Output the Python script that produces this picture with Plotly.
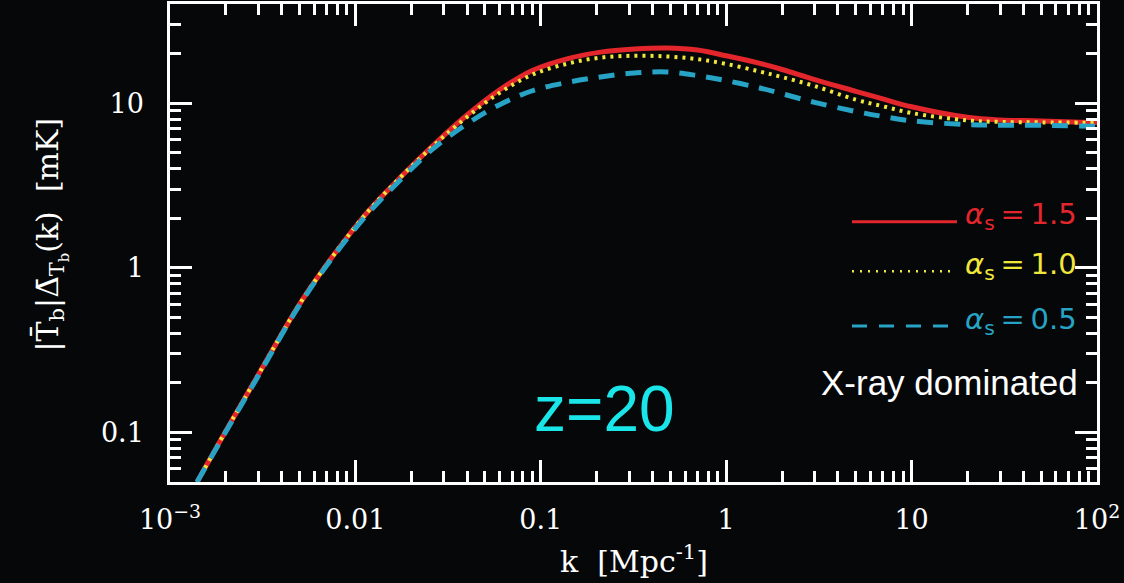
import plotly.graph_objects as go

# ---- data (k in Mpc^-1, values in mK) ----
k = [0.0014, 0.002, 0.00294, 0.005, 0.0076, 0.0115, 0.0174, 0.0263, 0.04, 0.06,
     0.09, 0.14, 0.21, 0.32, 0.48, 0.7, 1, 1.5, 2, 3, 5, 7, 10, 20, 30, 50, 100]
alpha15 = [0.05, 0.102, 0.216, 0.602, 1.186, 2.15, 3.52, 5.55, 8.47, 12.05,
           15.8, 18.65, 20.4, 21.3, 21.6, 21.0, 19.4, 17.5, 16.0, 13.9, 11.8, 10.6,
           9.5, 8.2, 7.9, 7.8, 7.6]
alpha10 = [0.05, 0.102, 0.216, 0.602, 1.186, 2.15, 3.52, 5.5, 8.24, 11.56,
           14.9, 17.4, 18.9, 19.4, 19.2, 18.5, 17.3, 15.6, 14.4, 12.7, 10.5, 9.57,
           8.71, 7.85, 7.69, 7.64, 7.6]
alpha05 = [0.05, 0.101, 0.213, 0.595, 1.17, 2.09, 3.40, 5.29, 7.48, 9.79,
           11.89, 13.38, 14.43, 15.26, 15.47, 14.7, 13.7, 12.4, 11.4, 10.1, 8.9, 8.3,
           7.81, 7.41, 7.35, 7.33, 7.24]

series_names = ["α_s=1.5", "α_s=1.0", "α_s=0.5"]
legend_labels = ["<i>α</i><sub>s</sub>\u2009=\u20091.5",
                 "<i>α</i><sub>s</sub>\u2009=\u20091.0",
                 "<i>α</i><sub>s</sub>\u2009=\u20090.5"]

x_tickvals = [1e-3, 1e-2, 1e-1, 1, 10, 100]
x_ticktext = ["10<sup>−3</sup>", "0.01", "0.1", "1", "10", "10<sup>2</sup>"]
y_tickvals = [0.1, 1, 10]
y_ticktext = ["0.1", "1", "10"]

RED = "#E3262C"
YEL = "#F0E63C"
BLU = "#27A3C6"
BG = "#050708"

fig = go.Figure()
fig.add_trace(go.Scatter(x=k, y=alpha15, mode="lines", name=series_names[0],
                         line=dict(color=RED, width=5, shape="spline", smoothing=1.0)))
fig.add_trace(go.Scatter(x=k, y=alpha10, mode="lines", name=series_names[1],
                         line=dict(color=YEL, width=4, dash="3px,5px", shape="spline", smoothing=1.0)))
fig.add_trace(go.Scatter(x=k, y=alpha05, mode="lines", name=series_names[2],
                         line=dict(color=BLU, width=5, dash="16px,11px", shape="spline", smoothing=1.0)))

x_minor = [m * 10.0 ** e for e in range(-3, 2) for m in range(2, 10)]
y_minor = [m * 10.0 ** e for e in range(-2, 2) for m in range(2, 10)
           if 0.05 <= m * 10.0 ** e <= 40]

tickfont = dict(family="DejaVu Serif", size=27, color="white")
axis_common = dict(
    type="log", showgrid=False, zeroline=False, showline=True, linecolor="white",
    linewidth=2.5, mirror="allticks", ticks="inside", ticklen=22, tickwidth=2.5,
    tickcolor="white", tickfont=tickfont,
)
fig.update_xaxes(range=[-3, 2], tickmode="array", tickvals=x_tickvals, ticktext=x_ticktext,
                 ticklabelstandoff=12,
                 minor=dict(tickmode="array", tickvals=x_minor, ticks="inside", ticklen=11,
                            tickwidth=2.5, tickcolor="white", showgrid=False),
                 **axis_common)
fig.update_yaxes(range=[-1.30103, 1.60206], tickmode="array", tickvals=y_tickvals,
                 ticktext=y_ticktext, ticklabelstandoff=18,
                 minor=dict(tickmode="array", tickvals=y_minor, ticks="inside", ticklen=11,
                            tickwidth=2.5, tickcolor="white", showgrid=False),
                 **axis_common)

# frame geometry helpers (domain fractions)
L, R, T, B = 170, 1097, 1, 482
def fx(px):
    return (px - L) / (R - L)
def fy(py):
    return (B - py) / (B - T)

# legend samples
fig.add_shape(type="line", xref="x domain", yref="y domain", x0=fx(852), x1=fx(957),
              y0=fy(220), y1=fy(220), line=dict(color=RED, width=3))
fig.add_shape(type="line", xref="x domain", yref="y domain", x0=fx(852), x1=fx(956),
              y0=fy(270), y1=fy(270), line=dict(color=YEL, width=2.5, dash="2px,6px"))
fig.add_shape(type="line", xref="x domain", yref="y domain", x0=fx(852), x1=fx(957),
              y0=fy(325), y1=fy(325), line=dict(color=BLU, width=3, dash="15px,12px"))

legend_y = [214, 265, 320]
for lab, col, py in zip(legend_labels, [RED, YEL, BLU], legend_y):
    fig.add_annotation(xref="x domain", yref="y domain", x=fx(1079), y=fy(py),
                       xanchor="right", yanchor="middle", showarrow=False, text=lab,
                       font=dict(family="DejaVu Sans", size=29, color=col))

fig.add_annotation(xref="x domain", yref="y domain", x=fx(1080), y=fy(382),
                   xanchor="right", yanchor="middle", showarrow=False,
                   text="X-ray dominated",
                   font=dict(family="Liberation Sans", size=35, color="white"))
fig.add_annotation(xref="x domain", yref="y domain", x=fx(604), y=fy(409),
                   xanchor="center", yanchor="middle", showarrow=False, text="z=20",
                   font=dict(family="Liberation Sans", size=64, color="#1AE6EA"))

# axis titles
fig.add_annotation(xref="paper", yref="paper", x=fx(634), y=fy(560), xanchor="center",
                   yanchor="middle", showarrow=False, text="k  [Mpc<sup>-1</sup>]",
                   font=dict(family="DejaVu Serif", size=30, color="white"))
fig.add_annotation(xref="paper", yref="paper", x=fx(50), y=fy(233), xanchor="center",
                   yanchor="middle", showarrow=False, textangle=-90,
                   text="|T̄<sub>b</sub>|Δ̄<sub>T<sub>b</sub></sub>(k)  [mK]",
                   font=dict(family="DejaVu Serif", size=30, color="white"))

fig.update_layout(
    width=1124, height=583, autosize=False,
    margin=dict(l=L, r=1124 - R, t=T, b=583 - B),
    paper_bgcolor=BG, plot_bgcolor=BG, showlegend=False,
)

fig.write_html(
    "out.html",
    config={"displayModeBar": False},
    post_script="document.body.style.margin='0';document.body.style.background='#050708';",
)
